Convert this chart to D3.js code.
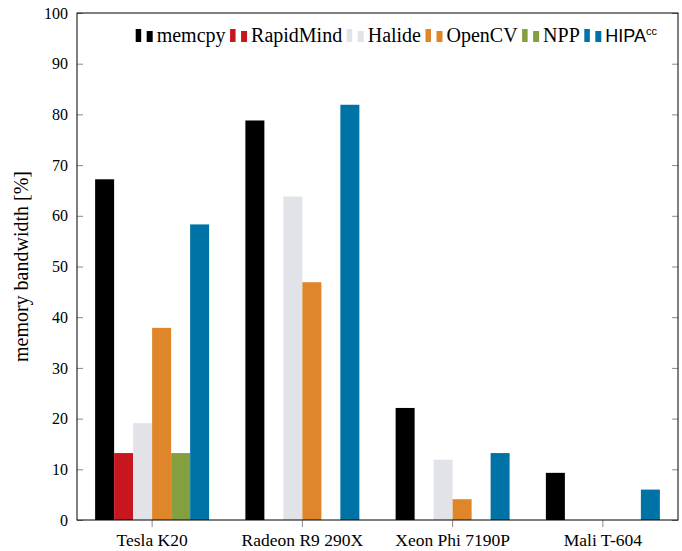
<!DOCTYPE html>
<html>
<head>
<meta charset="utf-8">
<script src="https://cdn.jsdelivr.net/npm/d3@7"></script>
<style>
    body { margin: 0; background: #fff; }
    text { font-family: "Liberation Serif", "DejaVu Serif", serif; fill: #000; }
</style>
</head>
<body>
<div id="chart"></div>
<script>
// Memory bandwidth per device and framework
const devices = ["Tesla K20", "Radeon R9 290X", "Xeon Phi 7190P", "Mali T-604"];
const frameworks = ["memcpy", "RapidMind", "Halide", "OpenCV", "NPP", "HIPAcc"];
const colors = ["#000000", "#c8161e", "#e2e3e8", "#e0862a", "#849f3f", "#0073a6"];

// One value per device, null where the framework has no bar
const memcpyValues = [67.2, 78.8, 22.1, 9.3];
const rapidMindValues = [13.2, null, null, null];
const halideValues = [19.1, 63.8, 11.9, null];
const openCVValues = [37.9, 46.9, 4.1, null];
const nppValues = [13.2, null, null, null];
const hipaccValues = [58.3, 81.9, 13.2, 6.0];

const yTicks = [0, 10, 20, 30, 40, 50, 60, 70, 80, 90, 100];

const seriesValues = [memcpyValues, rapidMindValues, halideValues, openCVValues, nppValues, hipaccValues];

const W = 682, H = 551;
const margin = {top: 13, right: 4, bottom: 31, left: 77};
const width = W - margin.left - margin.right;
const height = H - margin.top - margin.bottom;

const svg = d3.select("#chart").append("svg")
    .attr("width", W)
    .attr("height", H);

const g = svg.append("g")
    .attr("transform", "translate(" + margin.left + "," + margin.top + ")");

// Scales
const xScale = d3.scaleBand()
    .domain(devices)
    .range([0, width])
    .padding(0);

const barWidth = 19;
const xInner = d3.scaleBand()
    .domain(frameworks)
    .range([-barWidth * 3, barWidth * 3]);

const yScale = d3.scaleLinear()
    .domain([0, 100])
    .range([height, 0]);

// Bars
frameworks.forEach(function (fw, i) {
    const rows = devices.map(function (dev, j) {
        return {device: dev, value: seriesValues[i][j]};
    }).filter(function (d) { return d.value !== null; });

    g.append("g")
     .selectAll("rect")
     .data(rows)
     .enter()
     .append("rect")
     .attr("x", function (d) { return xScale(d.device) + xScale.bandwidth() / 2 + xInner(fw); })
     .attr("y", function (d) { return yScale(d.value); })
     .attr("width", xInner.bandwidth())
     .attr("height", function (d) { return height - yScale(d.value); })
     .style("fill", colors[i]);
});

// Y axis ticks (inside, both sides)
const tickColor = "#8a8a8a";
g.append("g")
 .call(d3.axisRight(yScale).tickValues(yTicks).tickSize(6).tickFormat(""))
 .call(function (a) { a.select(".domain").remove(); a.selectAll("line").attr("stroke", tickColor); });
g.append("g")
 .attr("transform", "translate(" + width + ",0)")
 .call(d3.axisLeft(yScale).tickValues(yTicks).tickSize(6).tickFormat(""))
 .call(function (a) { a.select(".domain").remove(); a.selectAll("line").attr("stroke", tickColor); });

// Y tick labels
g.append("g")
 .selectAll("text")
 .data(yTicks)
 .enter()
 .append("text")
 .attr("x", -9)
 .attr("y", function (d) { return yScale(d); })
 .attr("dy", "0.35em")
 .attr("text-anchor", "end")
 .style("font-size", "16px")
 .text(function (d) { return d; });

// X axis ticks (outside) and labels
g.append("g")
 .attr("transform", "translate(0," + height + ")")
 .call(d3.axisBottom(xScale).tickSize(7).tickFormat(""))
 .call(function (a) { a.select(".domain").remove(); a.selectAll("line").attr("stroke", tickColor); });

g.append("g")
 .selectAll("text")
 .data(devices)
 .enter()
 .append("text")
 .attr("x", function (d) { return xScale(d) + xScale.bandwidth() / 2; })
 .attr("y", height + 26)
 .attr("text-anchor", "middle")
 .style("font-size", "17.5px")
 .text(function (d) { return d; });

// Frame
g.append("rect")
 .attr("width", width)
 .attr("height", height)
 .attr("fill", "none")
 .attr("stroke", "#000")
 .attr("stroke-width", 1);

// Y axis title
svg.append("text")
   .attr("transform", "translate(28," + (margin.top + height / 2) + ") rotate(-90)")
   .attr("text-anchor", "middle")
   .style("font-size", "20px")
   .text("memory bandwidth [%]");

// Legend, laid out left to right then anchored at the right
const legend = svg.append("g");
let cursor = 0;
frameworks.forEach(function (fw, i) {
    const item = legend.append("g").attr("transform", "translate(" + cursor + ",0)");
    item.append("rect").attr("x", 0).attr("y", 0).attr("width", 5.5).attr("height", 13).style("fill", colors[i]);
    item.append("rect").attr("x", 11).attr("y", 2).attr("width", 6).attr("height", 11).style("fill", colors[i]);
    const label = item.append("text")
        .attr("x", 21)
        .attr("y", 13)
        .style("font-size", "20px");
    if (fw === "HIPAcc") {
        label.append("tspan").text("HIPA").style("font-family", "'Liberation Sans', sans-serif").style("font-size", "18px");
        label.append("tspan").text("cc").attr("dy", -7).style("font-family", "'Liberation Sans', sans-serif").style("font-size", "11px");
    } else {
        label.text(fw);
    }
    cursor += 21 + label.node().getComputedTextLength() + 4.5;
});
legend.attr("transform", "translate(" + (657 - cursor + 4.5) + ",29)");
</script>
</body>
</html>
